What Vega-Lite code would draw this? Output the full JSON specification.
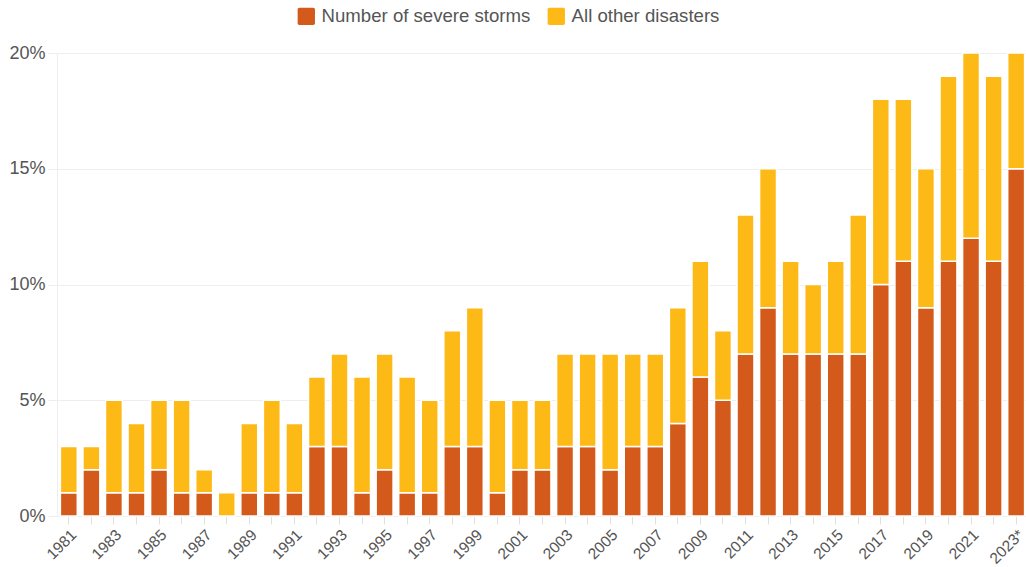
{
  "$schema": "https://vega.github.io/schema/vega-lite/v6.json",
  "autosize": "none",
  "padding": {"left": 57, "top": 53, "right": 0, "bottom": 51},
  "width": 971,
  "height": 463,
  "background": "white",
  "data": {"values": [
    {"year":"1981","type":"Number of severe storms","value":1},{"year":"1981","type":"All other disasters","value":2},
    {"year":"1982","type":"Number of severe storms","value":2},{"year":"1982","type":"All other disasters","value":1},
    {"year":"1983","type":"Number of severe storms","value":1},{"year":"1983","type":"All other disasters","value":4},
    {"year":"1984","type":"Number of severe storms","value":1},{"year":"1984","type":"All other disasters","value":3},
    {"year":"1985","type":"Number of severe storms","value":2},{"year":"1985","type":"All other disasters","value":3},
    {"year":"1986","type":"Number of severe storms","value":1},{"year":"1986","type":"All other disasters","value":4},
    {"year":"1987","type":"Number of severe storms","value":1},{"year":"1987","type":"All other disasters","value":1},
    {"year":"1988","type":"Number of severe storms","value":0},{"year":"1988","type":"All other disasters","value":1},
    {"year":"1989","type":"Number of severe storms","value":1},{"year":"1989","type":"All other disasters","value":3},
    {"year":"1990","type":"Number of severe storms","value":1},{"year":"1990","type":"All other disasters","value":4},
    {"year":"1991","type":"Number of severe storms","value":1},{"year":"1991","type":"All other disasters","value":3},
    {"year":"1992","type":"Number of severe storms","value":3},{"year":"1992","type":"All other disasters","value":3},
    {"year":"1993","type":"Number of severe storms","value":3},{"year":"1993","type":"All other disasters","value":4},
    {"year":"1994","type":"Number of severe storms","value":1},{"year":"1994","type":"All other disasters","value":5},
    {"year":"1995","type":"Number of severe storms","value":2},{"year":"1995","type":"All other disasters","value":5},
    {"year":"1996","type":"Number of severe storms","value":1},{"year":"1996","type":"All other disasters","value":5},
    {"year":"1997","type":"Number of severe storms","value":1},{"year":"1997","type":"All other disasters","value":4},
    {"year":"1998","type":"Number of severe storms","value":3},{"year":"1998","type":"All other disasters","value":5},
    {"year":"1999","type":"Number of severe storms","value":3},{"year":"1999","type":"All other disasters","value":6},
    {"year":"2000","type":"Number of severe storms","value":1},{"year":"2000","type":"All other disasters","value":4},
    {"year":"2001","type":"Number of severe storms","value":2},{"year":"2001","type":"All other disasters","value":3},
    {"year":"2002","type":"Number of severe storms","value":2},{"year":"2002","type":"All other disasters","value":3},
    {"year":"2003","type":"Number of severe storms","value":3},{"year":"2003","type":"All other disasters","value":4},
    {"year":"2004","type":"Number of severe storms","value":3},{"year":"2004","type":"All other disasters","value":4},
    {"year":"2005","type":"Number of severe storms","value":2},{"year":"2005","type":"All other disasters","value":5},
    {"year":"2006","type":"Number of severe storms","value":3},{"year":"2006","type":"All other disasters","value":4},
    {"year":"2007","type":"Number of severe storms","value":3},{"year":"2007","type":"All other disasters","value":4},
    {"year":"2008","type":"Number of severe storms","value":4},{"year":"2008","type":"All other disasters","value":5},
    {"year":"2009","type":"Number of severe storms","value":6},{"year":"2009","type":"All other disasters","value":5},
    {"year":"2010","type":"Number of severe storms","value":5},{"year":"2010","type":"All other disasters","value":3},
    {"year":"2011","type":"Number of severe storms","value":7},{"year":"2011","type":"All other disasters","value":6},
    {"year":"2012","type":"Number of severe storms","value":9},{"year":"2012","type":"All other disasters","value":6},
    {"year":"2013","type":"Number of severe storms","value":7},{"year":"2013","type":"All other disasters","value":4},
    {"year":"2014","type":"Number of severe storms","value":7},{"year":"2014","type":"All other disasters","value":3},
    {"year":"2015","type":"Number of severe storms","value":7},{"year":"2015","type":"All other disasters","value":4},
    {"year":"2016","type":"Number of severe storms","value":7},{"year":"2016","type":"All other disasters","value":6},
    {"year":"2017","type":"Number of severe storms","value":10},{"year":"2017","type":"All other disasters","value":8},
    {"year":"2018","type":"Number of severe storms","value":11},{"year":"2018","type":"All other disasters","value":7},
    {"year":"2019","type":"Number of severe storms","value":9},{"year":"2019","type":"All other disasters","value":6},
    {"year":"2020","type":"Number of severe storms","value":11},{"year":"2020","type":"All other disasters","value":8},
    {"year":"2021","type":"Number of severe storms","value":12},{"year":"2021","type":"All other disasters","value":8},
    {"year":"2022","type":"Number of severe storms","value":11},{"year":"2022","type":"All other disasters","value":8},
    {"year":"2023*","type":"Number of severe storms","value":15},{"year":"2023*","type":"All other disasters","value":5}
  ]},
  "mark": {"type": "bar", "stroke": "white", "strokeWidth": 1.5},
  "encoding": {
    "x": {
      "field": "year", "type": "ordinal", "sort": null,
      "scale": {"paddingInner": 0.25, "paddingOuter": 0.15},
      "axis": {
        "title": null, "labelAngle": -45, "labelAlign": "right", "labelBaseline": "top",
        "labelExpr": "indexof(['1981','1983','1985','1987','1989','1991','1993','1995','1997','1999','2001','2003','2005','2007','2009','2011','2013','2015','2017','2019','2021','2023*'], datum.value) >= 0 ? datum.value : ''",
        "labelFont": "Liberation Sans", "labelFontSize": 15.5, "labelColor": "#555555",
        "labelPadding": 3, "labelOverlap": false,
        "domain": false, "ticks": true, "tickColor": "#e0e0e0", "tickSize": 8,
        "grid": false
      }
    },
    "y": {
      "field": "value", "type": "quantitative", "stack": "zero",
      "scale": {"domain": [0, 20], "nice": false},
      "axis": {
        "title": null, "values": [0, 5, 10, 15, 20],
        "labelExpr": "datum.value + '%'",
        "labelFont": "Liberation Sans", "labelFontSize": 18, "labelColor": "#555555",
        "labelPadding": 3,
        "domain": true, "domainColor": "#eeeeee",
        "ticks": true, "tickColor": "#eeeeee", "tickSize": 9,
        "grid": true, "gridColor": "#eeeeee"
      }
    },
    "color": {
      "field": "type", "type": "nominal",
      "scale": {"domain": ["Number of severe storms", "All other disasters"], "range": ["#D35A1B", "#FDBA16"]},
      "legend": {
        "title": null, "orient": "none", "direction": "horizontal",
        "legendX": 240, "legendY": -46,
        "symbolType": "M-0.8,-1 h1.6 a0.2,0.2 0 0 1 0.2,0.2 v1.6 a0.2,0.2 0 0 1 -0.2,0.2 h-1.6 a0.2,0.2 0 0 1 -0.2,-0.2 v-1.6 a0.2,0.2 0 0 1 0.2,-0.2 z",
        "symbolSize": 300, "symbolStrokeWidth": 0, "symbolOpacity": 1,
        "labelFont": "Liberation Sans", "labelFontSize": 18.6, "labelColor": "#555555",
        "labelLimit": 400, "labelOffset": 6, "columnPadding": 16
      }
    },
    "order": {"field": "type", "sort": "descending"}
  },
  "config": {"view": {"stroke": null}}
}
